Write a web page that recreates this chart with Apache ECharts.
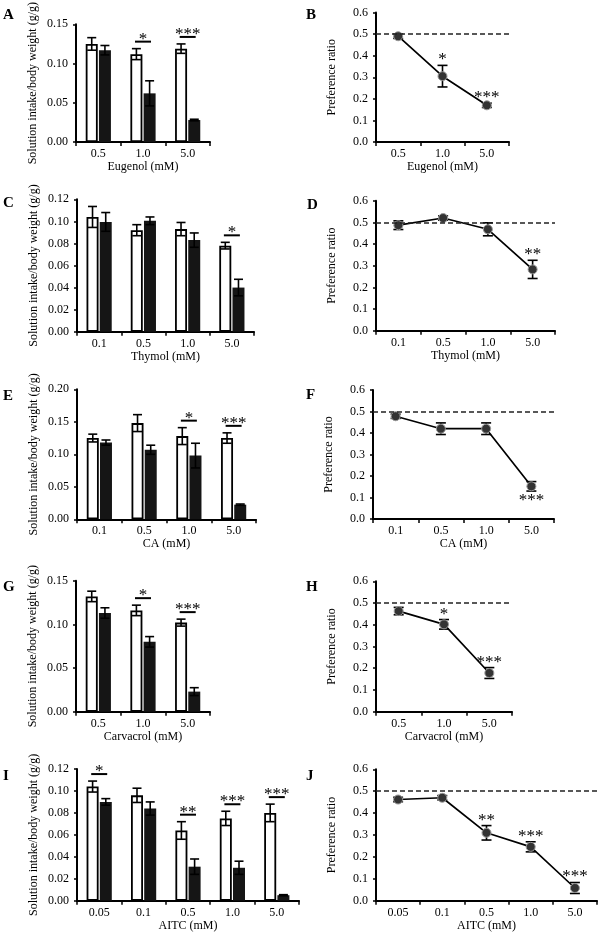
<!DOCTYPE html>
<html><head><meta charset="utf-8">
<script src="https://cdn.jsdelivr.net/npm/echarts@6/dist/echarts.min.js"></script>
<style>html,body{margin:0;padding:0;background:#fff}#c{width:600px;height:934px}</style>
</head><body><div id="c"></div><script>
// ---------- DATA ----------
// Eugenol
const eugenolDose = ['0.5', '1.0', '5.0'];
const eugenolWater = [0.125, 0.112, 0.119];
const eugenolWaterErr = [0.008, 0.007, 0.006];
const eugenolSol = [0.117, 0.062, 0.028];
const eugenolSolErr = [0.006, 0.016, 0.001];
const eugenolBarSig = ['', '*', '***'];
const eugenolPref = [0.49, 0.305, 0.17];
const eugenolPrefErr = [0.01, 0.05, 0.01];
const eugenolPrefSig = ['', '*', '***'];
// Thymol
const thymolDose = ['0.1', '0.5', '1.0', '5.0'];
const thymolWater = [0.104, 0.092, 0.093, 0.078];
const thymolWaterErr = [0.0095, 0.005, 0.006, 0.003];
const thymolSol = [0.0995, 0.1005, 0.083, 0.040];
const thymolSolErr = [0.0085, 0.0035, 0.0065, 0.0075];
const thymolBarSig = ['', '', '', '*'];
const thymolPref = [0.487, 0.52, 0.468, 0.283];
const thymolPrefErr = [0.02, 0.01, 0.03, 0.042];
const thymolPrefSig = ['', '', '', '**'];
// CA
const caDose = ['0.1', '0.5', '1.0', '5.0'];
const caWater = [0.125, 0.148, 0.128, 0.125];
const caWaterErr = [0.006, 0.013, 0.013, 0.008];
const caSol = [0.118, 0.107, 0.098, 0.0225];
const caSolErr = [0.004, 0.007, 0.019, 0.001];
const caBarSig = ['', '', '*', '***'];
const caPref = [0.478, 0.42, 0.42, 0.152];
const caPrefErr = [0.01, 0.027, 0.027, 0.022];
const caPrefSig = ['', '', '', '***'];
// Carvacrol
const carvacrolDose = ['0.5', '1.0', '5.0'];
const carvacrolWater = [0.132, 0.116, 0.102];
const carvacrolWaterErr = [0.006, 0.006, 0.004];
const carvacrolSol = [0.113, 0.080, 0.023];
const carvacrolSolErr = [0.006, 0.006, 0.0045];
const carvacrolBarSig = ['', '*', '***'];
const carvacrolPref = [0.463, 0.402, 0.178];
const carvacrolPrefErr = [0.017, 0.022, 0.025];
const carvacrolPrefSig = ['', '*', '***'];
// AITC
const aitcDose = ['0.05', '0.1', '0.5', '1.0', '5.0'];
const aitcWater = [0.104, 0.096, 0.064, 0.075, 0.080];
const aitcWaterErr = [0.005, 0.0065, 0.008, 0.0065, 0.008];
const aitcSol = [0.090, 0.084, 0.031, 0.030, 0.005];
const aitcSolErr = [0.003, 0.006, 0.007, 0.006, 0.0005];
const aitcBarSig = ['*', '', '**', '***', '***'];
const aitcPref = [0.462, 0.47, 0.31, 0.246, 0.058];
const aitcPrefErr = [0.01, 0.01, 0.033, 0.023, 0.025];
const aitcPrefSig = ['', '', '**', '***', '***'];

const intakeTicks = { eugenol: [0.15, 0.05], thymol: [0.12, 0.02], ca: [0.20, 0.05], carvacrol: [0.15, 0.05], aitc: [0.12, 0.02] };
const prefTicks = [0.6, 0.1];
const refLine = 0.5;

// ---------- CHART ----------
const FONT = 'Liberation Serif';
const INK = '#000';
const grids = [], xAxes = [], yAxes = [], series = [], graphics = [];
const BW = 12, OFF = 6.6;

function addPanel(box, cats, xName, yName, yMax, yInt, dec, nameGap) {
  const idx = grids.length;
  grids.push({ left: box[0], top: box[1], width: box[2] - box[0], height: box[3] - box[1] });
  xAxes.push({
    type: 'category', gridIndex: idx, data: cats, name: xName, nameLocation: 'middle', nameGap: 19,
    nameTextStyle: { fontFamily: FONT, fontSize: 12, color: INK },
    axisLine: { lineStyle: { color: INK, width: 2 } },
    axisTick: { show: true, length: 4, lineStyle: { color: INK, width: 1.5 } },
    axisLabel: { fontFamily: FONT, fontSize: 12, color: INK, margin: 6 },
    splitLine: { show: false }
  });
  yAxes.push({
    type: 'value', gridIndex: idx, min: 0, max: yMax, interval: yInt, name: yName, nameLocation: 'middle', nameGap: nameGap,
    nameTextStyle: { fontFamily: FONT, fontSize: 12, color: INK },
    axisLine: { show: true, lineStyle: { color: INK, width: 2 } },
    axisTick: { show: true, length: 3, lineStyle: { color: INK, width: 1.5 } },
    axisLabel: { fontFamily: FONT, fontSize: 12, color: INK, margin: 8, formatter: v => v.toFixed(dec) },
    splitLine: { show: false }
  });
  return idx;
}

function errSeries(idx, items, hw, z) {
  return {
    type: 'custom', xAxisIndex: idx, yAxisIndex: idx, z: z, silent: true, data: items,
    renderItem: (params, api) => {
      const i = api.value(0), m = api.value(1), e = api.value(2), s = api.value(3);
      const cx = api.coord([i, m])[0] + s * OFF;
      const yt = api.coord([i, m + e])[1], yb = api.coord([i, m - e])[1];
      const st = { stroke: INK, lineWidth: 1.6 };
      return { type: 'group', children: [
        { type: 'line', shape: { x1: cx, y1: yt, x2: cx, y2: yb }, style: st },
        { type: 'line', shape: { x1: cx - hw, y1: yt, x2: cx + hw, y2: yt }, style: st },
        { type: 'line', shape: { x1: cx - hw, y1: yb, x2: cx + hw, y2: yb }, style: st }
      ] };
    }
  };
}

function sigSeries(idx, refVals, sigs, mode) {
  const items = [], labels = [];
  sigs.forEach((s, i) => { if (s) { items.push([i, refVals[i]]); labels.push(s); } });
  return {
    type: 'custom', xAxisIndex: idx, yAxisIndex: idx, z: 5, silent: true, data: items,
    renderItem: (params, api) => {
      const i = api.value(0), v = api.value(1);
      const p = api.coord([i, v]);
      const txt = labels[params.dataIndex];
      const ts = { text: txt, x: p[0], align: 'center', font: '17px ' + FONT, fill: INK };
      if (mode === 'bar') {
        const ly = p[1] - 7;
        return { type: 'group', children: [
          { type: 'line', shape: { x1: p[0] - 8, y1: ly, x2: p[0] + 8, y2: ly }, style: { stroke: INK, lineWidth: 2 } },
          { type: 'text', style: Object.assign({}, ts, { y: ly + 6, verticalAlign: 'bottom' }) }
        ] };
      } else if (mode === 'below') {
        return { type: 'text', style: Object.assign({}, ts, { y: p[1] + 1, verticalAlign: 'top' }) };
      }
      return { type: 'text', style: Object.assign({}, ts, { y: p[1] + 3, verticalAlign: 'bottom' }) };
    }
  };
}

function barPanel(box, cats, xName, ticks, water, waterErr, sol, solErr, sig) {
  const idx = addPanel(box, cats, xName, 'Solution intake/body weight (g/g)', ticks[0], ticks[1], 2, 37);
  series.push({ type: 'bar', xAxisIndex: idx, yAxisIndex: idx, data: water, barWidth: BW, barGap: '10%',
    itemStyle: { color: '#fff', borderColor: INK, borderWidth: 1.8 }, z: 2, silent: true });
  series.push({ type: 'bar', xAxisIndex: idx, yAxisIndex: idx, data: sol, barWidth: BW, barGap: '10%',
    itemStyle: { color: '#151515' }, z: 2, silent: true });
  const items = [];
  water.forEach((v, i) => items.push([i, v, waterErr[i], -1]));
  sol.forEach((v, i) => items.push([i, v, solErr[i], 1]));
  series.push(errSeries(idx, items, 4.5, 3));
  const tops = water.map((v, i) => Math.max(v + waterErr[i], sol[i] + solErr[i]));
  series.push(sigSeries(idx, tops, sig, 'bar'));
}

function prefPanel(box, cats, xName, vals, errs, sig, below) {
  const idx = addPanel(box, cats, xName, 'Preference ratio', prefTicks[0], prefTicks[1], 1, 38);
  series.push({
    type: 'line', xAxisIndex: idx, yAxisIndex: idx, data: vals, z: 4, silent: true,
    symbol: 'circle', symbolSize: 9,
    itemStyle: { color: '#333', borderColor: '#999', borderWidth: 1 },
    lineStyle: { color: INK, width: 1.7 },
    markLine: { silent: true, symbol: 'none', label: { show: false },
      lineStyle: { color: '#222', type: [5, 3], width: 1.5 }, data: [{ yAxis: refLine }] }
  });
  series.push(errSeries(idx, vals.map((v, i) => [i, v, errs[i], 0]), 5, 3));
  const refs = vals.map((v, i) => below ? v - errs[i] : v + errs[i]);
  series.push(sigSeries(idx, refs, sig, below ? 'below' : 'above'));
}

barPanel([76, 12.5, 210, 142], eugenolDose, 'Eugenol (mM)', intakeTicks.eugenol, eugenolWater, eugenolWaterErr, eugenolSol, eugenolSolErr, eugenolBarSig);
prefPanel([376, 12.5, 509, 142], eugenolDose, 'Eugenol (mM)', eugenolPref, eugenolPrefErr, eugenolPrefSig, false);
barPanel([77, 199.3, 254, 331.7], thymolDose, 'Thymol (mM)', intakeTicks.thymol, thymolWater, thymolWaterErr, thymolSol, thymolSolErr, thymolBarSig);
prefPanel([376, 200.7, 555, 330.7], thymolDose, 'Thymol (mM)', thymolPref, thymolPrefErr, thymolPrefSig, false);
barPanel([77, 389.3, 256, 519.3], caDose, 'CA (mM)', intakeTicks.ca, caWater, caWaterErr, caSol, caSolErr, caBarSig);
prefPanel([373, 390, 554, 519], caDose, 'CA (mM)', caPref, caPrefErr, caPrefSig, true);
barPanel([76, 580.7, 210, 711.7], carvacrolDose, 'Carvacrol (mM)', intakeTicks.carvacrol, carvacrolWater, carvacrolWaterErr, carvacrolSol, carvacrolSolErr, carvacrolBarSig);
prefPanel([376, 581.3, 512, 711.7], carvacrolDose, 'Carvacrol (mM)', carvacrolPref, carvacrolPrefErr, carvacrolPrefSig, false);
barPanel([77, 769, 299, 900.7], aitcDose, 'AITC (mM)', intakeTicks.aitc, aitcWater, aitcWaterErr, aitcSol, aitcSolErr, aitcBarSig);
prefPanel([376, 769.3, 597, 900.7], aitcDose, 'AITC (mM)', aitcPref, aitcPrefErr, aitcPrefSig, false);

const letters = [['A', 3, 8], ['B', 306, 8], ['C', 3, 196], ['D', 307, 198], ['E', 3, 389], ['F', 306, 388], ['G', 3, 580], ['H', 306, 580], ['I', 3, 769], ['J', 306, 769]];
letters.forEach(l => graphics.push({ type: 'text', left: l[1], top: l[2], style: { text: l[0], font: 'bold 15px ' + FONT, fill: INK } }));

const chart = echarts.init(document.getElementById('c'), null, { renderer: 'canvas' });
chart.setOption({ animation: false, backgroundColor: '#fff', grid: grids, xAxis: xAxes, yAxis: yAxes, series: series, graphic: graphics });
</script></body></html>
